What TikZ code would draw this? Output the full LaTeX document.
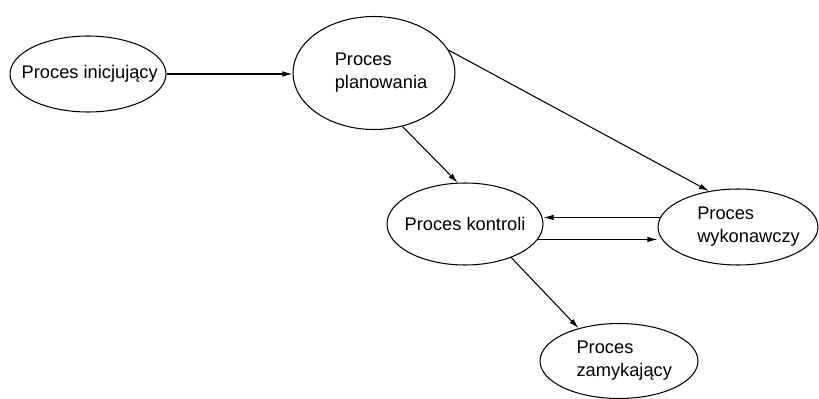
\documentclass[tikz,border=0pt]{standalone}
\usepackage{fontspec}
\setmainfont{Liberation Sans}
\usepackage{tikz}
\usetikzlibrary{arrows.meta, shapes.geometric}

\begin{document}
\begin{tikzpicture}[x=0.02cm, y=-0.02cm,
    proc/.style={ellipse, draw, line width=0.6pt, inner sep=0pt},
    txt/.style={font=\fontsize{10.4}{13.1}\selectfont, align=left, inner sep=0pt},
    arr/.style={-{Latex[length=2mm, width=1.1mm]}, line width=0.6pt}]

  % --- Frame of the picture ----
  \useasboundingbox (0,0) rectangle (819,399);

  % --- Processes ----
  \node[proc, minimum width=3.12cm, minimum height=1.52cm,
        label={[txt, xshift=1pt]center:Proces inicjujący}] (ini) at (88,74) {};
  \node[proc, minimum width=3.24cm, minimum height=2.26cm,
        label={[txt, xshift=4pt]center:{Proces\\planowania}}] (plan) at (374,73) {};
  \node[proc, minimum width=3.12cm, minimum height=1.64cm,
        label={[txt]center:Proces kontroli}] (kon) at (465,224) {};
  \node[proc, minimum width=3.2cm, minimum height=1.52cm,
        label={[txt, xshift=6pt]center:{Proces\\wykonawczy}}] (wyk) at (738,227) {};
  \node[proc, minimum width=3.16cm, minimum height=1.5cm,
        label={[txt, xshift=3pt]center:{Proces\\zamykający}}] (zam) at (619,361) {};

  % --- Connectors ----
  \draw[arr] (ini.east) -- (ini.east -| plan.west);
  \draw[arr] (plan.-62) -- (kon.100);
  \draw[arr] (plan.17) -- (wyk.129);
  \draw[arr] (wyk.173) -- (wyk.173 -| kon.east);
  \draw[arr] (kon.-12) -- (kon.-12 -| wyk.west);
  \draw[arr] (kon.-36) -- (zam.141);
\end{tikzpicture}
\end{document}
